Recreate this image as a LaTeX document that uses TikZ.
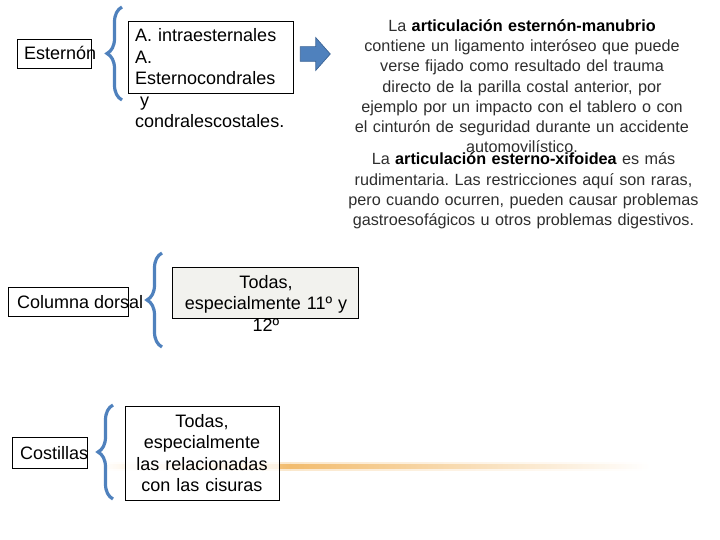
\documentclass[tikz,border=0pt]{standalone}
\usepackage{fontspec}
\setmainfont{Liberation Sans}
\usetikzlibrary{positioning, decorations.pathreplacing, shapes.arrows}
\definecolor{braceBlue}{HTML}{4F81BD}
\definecolor{arrowEdge}{HTML}{3A6395}
\definecolor{boxGray}{HTML}{F2F2EE}
\definecolor{lineOrange}{HTML}{F2BC6E}
\frenchspacing

\begin{document}
\begin{tikzpicture}[
  x=1pt, y=-1pt,
  frame/.style={draw, rectangle, anchor=north west, inner sep=0pt, line width=0.9pt},
  lbl/.style={font=\fontsize{18}{21.5}\selectfont, inner sep=0pt},
  para/.style={font=\fontsize{16.2}{20.2}\selectfont, text=black!82, text width=380pt, align=center, inner sep=0pt, anchor=base},
  curly/.style={decorate, decoration={brace, amplitude=15pt}, draw=braceBlue, line width=3.2pt},
  blockarrow/.style={single arrow, fill=braceBlue, draw=arrowEdge, line width=0.7pt, inner xsep=0pt, inner ysep=7pt, minimum height=30pt, single arrow head extend=9pt, single arrow tip angle=97}
]
\useasboundingbox (0,0) rectangle (720,540);

\shade[left color=white, right color=lineOrange] (100,464) rectangle (290,468.5);
\shade[left color=lineOrange, right color=white] (290,464) rectangle (650,468.5);
\shade[left color=white, right color=lineOrange, opacity=0.35] (100,462) rectangle (290,470.5);
\shade[left color=lineOrange, right color=white, opacity=0.35] (290,462) rectangle (650,470.5);

\node[frame, minimum width=74pt, minimum height=29pt] (esternonBox) at (17,39) {};
\node[lbl, anchor=base west] (esternon) at (24,60) {Esternón};
\node[frame, minimum width=165pt, minimum height=72pt] (articBox) at (128,21) {};
\node[lbl, anchor=base west, text width=200pt, align=left] (artic) at (135,42) {A. intraesternales\\A.\\Esternocondrales\\\hspace{0.28em}y\\condralescostales.};

\node[frame, minimum width=120pt, minimum height=29pt] (columnaBox) at (8,287) {};
\node[lbl, anchor=base west] (columna) at (17,308) {Columna dorsal};
\node[frame, fill=boxGray, minimum width=186pt, minimum height=51pt] (vertBox) at (172,267) {};
\node[lbl, anchor=base, text width=200pt, align=center] (vert) at (266,288) {Todas,\\especialmente 11º y\\12º};

\node[frame, minimum width=75pt, minimum height=31pt] (costillasBox) at (12,437) {};
\node[lbl, anchor=base west] (costillas) at (20,459) {Costillas};
\node[frame, fill=white, fill opacity=0.8, minimum width=154pt, minimum height=94pt] (cisurasBox) at (125,406) {};
\node[lbl, anchor=base, text width=150pt, align=center] (cisuras) at (202,427) {Todas,\\especialmente\\las relacionadas\\con las cisuras};

\coordinate (b1top) at (122,7);
\coordinate (b1bot) at (122,100);
\coordinate (b2top) at (162,253);
\coordinate (b2bot) at (162,347);
\coordinate (b3top) at (113,405);
\coordinate (b3bot) at (113,499);
\draw[curly] (b1bot) -- (b1top);
\draw[curly] (b2bot) -- (b2top);
\draw[curly] (b3bot) -- (b3top);

\node[blockarrow] (arrowR) at (312,54) {};

\node[para] (manubrio) at (522,31.5) {La \textbf{\color{black}articulación esternón-manubrio}\\contiene un ligamento interóseo que puede\\verse fijado como resultado del trauma\\directo de la parilla costal anterior, por\\ejemplo por un impacto con el tablero o con\\el cinturón de seguridad durante un accidente\\automovilístico.};
\node[para] (xifoidea) at (523.5,165) {La \textbf{\color{black}articulación esterno-xifoidea} es más\\rudimentaria. Las restricciones aquí son raras,\\pero cuando ocurren, pueden causar problemas\\gastroesofágicos u otros problemas digestivos.};
\end{tikzpicture}
\end{document}
